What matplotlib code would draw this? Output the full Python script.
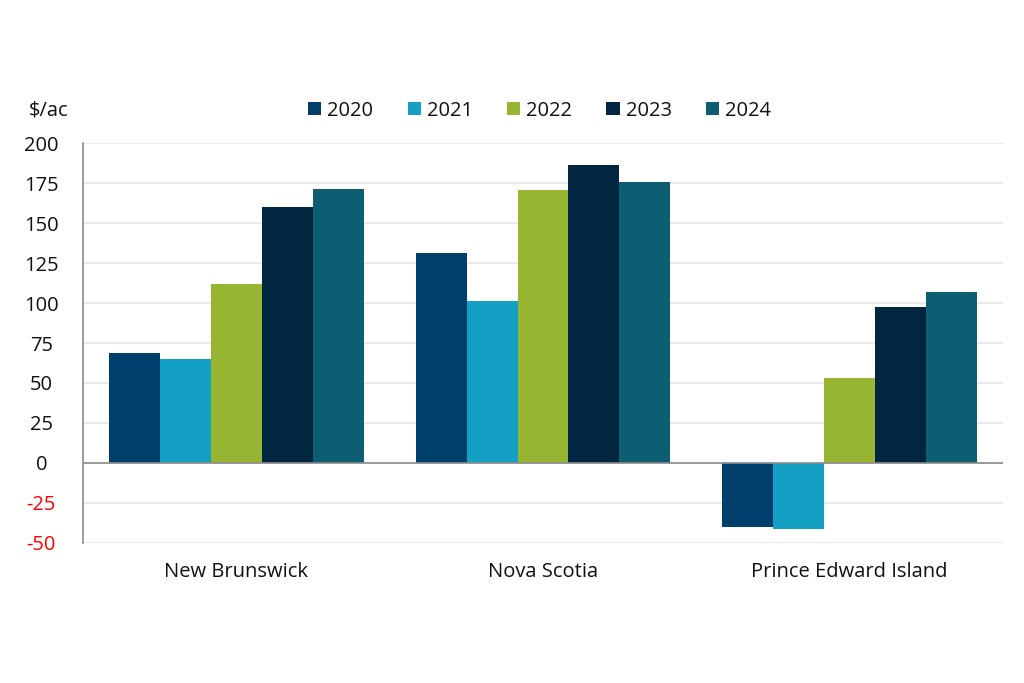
import matplotlib
matplotlib.use("Agg")
import matplotlib.pyplot as plt
import numpy as np

plt.rcParams['font.family'] = ['Open Sans', 'DejaVu Sans']

categories = ["New Brunswick", "Nova Scotia", "Prince Edward Island"]
years = ["2020", "2021", "2022", "2023", "2024"]
values = {
    "2020": [69, 131, -40],
    "2021": [65, 101, -41.5],
    "2022": [112, 170.5, 53],
    "2023": [160, 186.5, 97.5],
    "2024": [171, 175.5, 107],
}
colors = ["#003F6B", "#14A0C4", "#97B531", "#02263F", "#0E5E73"]
yticks = [-50, -25, 0, 25, 50, 75, 100, 125, 150, 175, 200]

fig = plt.figure(figsize=(10.24, 6.83), dpi=100)
ax = fig.add_axes([0.081, 0.205, 0.8985, 0.5856])

x = np.arange(len(categories))
bw = 0.166
for i, (yr, c) in enumerate(zip(years, colors)):
    ax.bar(x + (i - 2) * bw, values[yr], width=bw, color=c, label=yr, zorder=3)

fs = 14.5
ax.set_xlim(-0.5, 2.5)
ax.set_ylim(-50, 200)
ax.set_yticks(yticks)
ax.set_yticklabels([str(t) for t in yticks], fontsize=fs)
for lbl, t in zip(ax.get_yticklabels(), yticks):
    lbl.set_color("#FF0000" if t < 0 else "#111111")
    lbl.set_horizontalalignment('center')
ax.set_xticks(x)
ax.set_xticklabels(categories, fontsize=fs, color="#111111")
ax.tick_params(axis='both', length=0)
ax.tick_params(axis='y', pad=30)
ax.tick_params(axis='x', pad=14)
ax.grid(axis='y', color="#E6E6E6", linewidth=1.2, zorder=0)
ax.axhline(0, color="#8C8C8C", linewidth=1.2, zorder=4)
for s in ["top", "right", "bottom"]:
    ax.spines[s].set_visible(False)
ax.spines["left"].set_color("#8C8C8C")
ax.spines["left"].set_linewidth(1.2)

fig.text(0.047, 0.838, "$/ac", fontsize=fs, ha='center', va='center', color="#111111")
leg = fig.legend(loc='center', bbox_to_anchor=(0.527, 0.838), ncol=5, frameon=False,
           fontsize=fs, handlelength=0.65, handleheight=0.65, handletextpad=0.3,
           columnspacing=1.7)
for t in leg.get_texts():
    t.set_color("#111111")

fig.savefig("out.png", dpi=100)
